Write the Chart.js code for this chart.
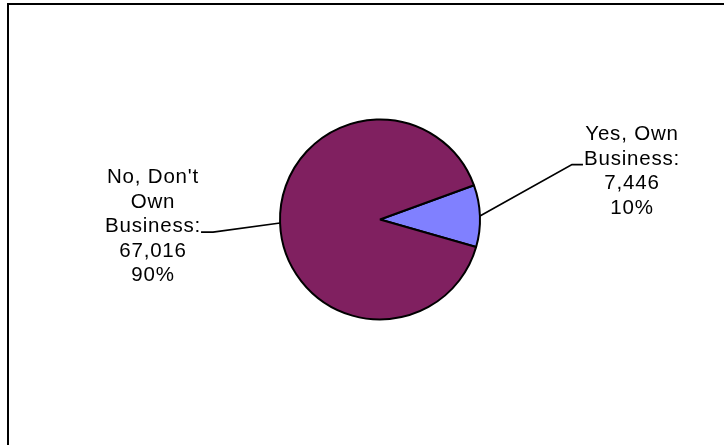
<!DOCTYPE html>
<html>
<head>
<meta charset="utf-8">
<style>
    html, body { margin: 0; padding: 0; background: #fff; }
    #wrap { position: relative; width: 724px; height: 445px; }
</style>
<script src="https://cdn.jsdelivr.net/npm/chart.js@4/dist/chart.umd.min.js"></script>
</head>
<body>
<div id="wrap"><canvas id="pieChart" width="724" height="445"></canvas></div>
<script>
// --- Data ---
const categories = ['Yes, Own Business', "No, Don't Own Business"];
const categoryLines = [['Yes, Own', 'Business:'], ["No, Don't", 'Own', 'Business:']];
const counts = [7446, 67016];
const sliceColors = ['#8080FF', '#802060'];

// label placement relative to pie centre (dx = text centre, dy = first baseline)
const labelSpots = [
    { dx: 252, dy: -79.5 },
    { dx: -227, dy: -36.5 }
];

const LINE_H = 24.6;
const FONT = '20.5px "Liberation Sans", Arial, sans-serif';

// frame round the chart (top + left edge visible)
const framePlugin = {
    id: 'frame',
    beforeDraw(chart) {
        const ctx = chart.ctx;
        ctx.save();
        ctx.strokeStyle = '#000';
        ctx.lineWidth = 2;
        ctx.beginPath();
        ctx.moveTo(8, 445);
        ctx.lineTo(8, 4);
        ctx.lineTo(724, 4);
        ctx.stroke();
        ctx.restore();
    }
};

// data labels with leader lines
const labelPlugin = {
    id: 'pieLabels',
    afterDraw(chart) {
        const ctx = chart.ctx;
        const meta = chart.getDatasetMeta(0);
        const total = counts.reduce((a, b) => a + b, 0);
        ctx.save();
        ctx.font = FONT;
        ctx.fillStyle = '#000';
        ctx.textAlign = 'center';
        ctx.textBaseline = 'alphabetic';
        if ('letterSpacing' in ctx) ctx.letterSpacing = '0.8px';

        meta.data.forEach((arc, i) => {
            const p = arc.getProps(['x', 'y', 'startAngle', 'endAngle', 'outerRadius'], true);
            const lines = categoryLines[i].concat([
                counts[i].toLocaleString('en-US'),
                Math.round(counts[i] / total * 100) + '%'
            ]);
            const spot = labelSpots[i];
            const tx = p.x + spot.dx;
            const ty0 = p.y + spot.dy;
            lines.forEach((ln, k) => ctx.fillText(ln, tx, ty0 + k * LINE_H));

            // leader line: from end of "Business:" line to slice edge
            const k = categoryLines[i].length - 1;
            const w = ctx.measureText(categoryLines[i][k]).width;
            const onRight = spot.dx > 0;
            const ax = onRight ? tx - w / 2 - 1 : tx + w / 2;
            const ay = ty0 + k * LINE_H;
            const ex = onRight ? ax - 11 : ax + 12;
            const mid = (p.startAngle + p.endAngle) / 2;
            const px = p.x + Math.cos(mid) * p.outerRadius;
            const py = p.y + Math.sin(mid) * p.outerRadius;
            ctx.strokeStyle = '#000';
            ctx.lineWidth = 1.7;
            ctx.beginPath();
            ctx.moveTo(ax, ay);
            ctx.lineTo(ex, ay);
            ctx.lineTo(px, py);
            ctx.stroke();
        });
        ctx.restore();
    }
};

const pieChart = new Chart(document.getElementById('pieChart'), {
    type: 'pie',
    data: {
        labels: categories,
        datasets: [{
            data: counts,
            backgroundColor: sliceColors,
            borderColor: '#000',
            borderWidth: 2
        }]
    },
    options: {
        responsive: false,
        animation: false,
        rotation: 70,
        radius: 100,
        layout: { padding: { left: 36, right: 0, top: 0, bottom: 6 } },
        plugins: {
            legend: { display: false },
            tooltip: { enabled: false }
        }
    },
    plugins: [framePlugin, labelPlugin]
});
</script>
</body>
</html>
